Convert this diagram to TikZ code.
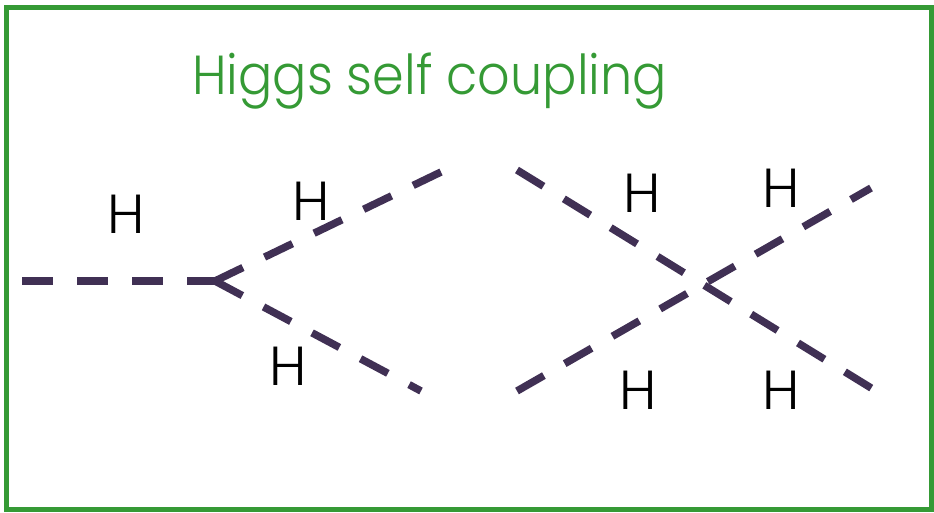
\documentclass[tikz,border=0pt]{standalone}
\usepackage{fontspec}
\setmainfont{Poppins}[UprightFont=* Light]
\definecolor{framegreen}{RGB}{53,154,53}
\definecolor{higgs}{RGB}{64,48,84}
\begin{document}
\begin{tikzpicture}[x=1pt,y=-1pt,
  higgsline/.style={draw=higgs,line width=7.5pt,dash pattern=on 31pt off 24pt},
  hlabel/.style={inner sep=0pt,font=\fontsize{55}{60}\selectfont,text=black},
  titletext/.style={inner sep=0pt,font=\fontsize{55}{60}\selectfont,text=framegreen,anchor=base west}]
\useasboundingbox (0,0) rectangle (934,512);
\draw[framegreen,line width=5pt] (6.5,7.5) rectangle (931.5,509.5);
\node[titletext] (title) at (192,94) {\scalebox{0.925}[1]{Higgs self coupling}};
% vertex diagram
\coordinate (in) at (22,281);
\coordinate (v) at (215,281);
\coordinate (out1) at (441,172);
\coordinate (out2) at (421,391);
\draw[higgsline] (in) -- (v);
\draw[higgsline] (v) -- (out1);
\draw[higgsline] (v) -- (out2);
% crossing lines
\coordinate (a1) at (517,170);
\coordinate (a2) at (876,391);
\coordinate (b1) at (517,391);
\coordinate (b2) at (871,188);
\draw[higgsline] (a1) -- (a2);
\draw[higgsline] (b1) -- (b2);
% labels
\node[hlabel] (h1) at (126,214.5) {H};
\node[hlabel] (h2) at (311,201.5) {H};
\node[hlabel] (h3) at (288.5,366) {H};
\node[hlabel] (h4) at (642.5,193.5) {H};
\node[hlabel] (h5) at (781,188.5) {H};
\node[hlabel] (h6) at (638.5,390) {H};
\node[hlabel] (h7) at (781,390) {H};
\end{tikzpicture}
\end{document}
